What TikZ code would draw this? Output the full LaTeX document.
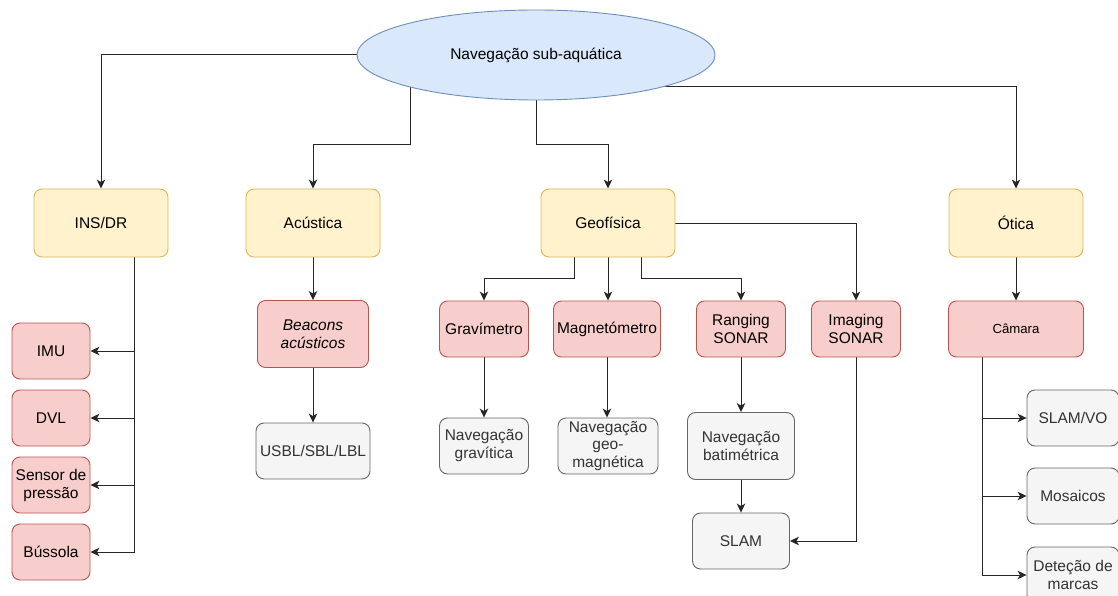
\documentclass[tikz,border=0pt]{standalone}
\usepackage{fontspec}
\setmainfont{Liberation Sans}
\usetikzlibrary{shapes.geometric,arrows.meta,calc,backgrounds}
\definecolor{bluef}{HTML}{DAE8FC}\definecolor{blued}{HTML}{6C8EBF}
\definecolor{yelf}{HTML}{FFF2CC}\definecolor{yeld}{HTML}{D6B656}
\definecolor{redf}{HTML}{F8CECC}\definecolor{redd}{HTML}{B85450}
\definecolor{greyf}{HTML}{F5F5F5}\definecolor{greyd}{HTML}{666666}
\definecolor{greyt}{HTML}{333333}
\tikzset{
  base/.style={rounded corners=8pt, line width=0.9pt, inner sep=0pt, align=center,
    font=\fontsize{15.5}{18}\selectfont},
  yelbox/.style={base, fill=yelf, draw=yeld, minimum width=134pt, minimum height=68pt},
  redbox/.style={base, fill=redf, draw=redd, minimum height=56pt},
  greybox/.style={base, fill=greyf, draw=greyd, text=greyt, minimum height=56pt},
  conn/.style={line width=1pt, draw=black!85, -{Stealth[length=9pt,width=8.5pt,inset=2.5pt]}},
  plain/.style={line width=1pt, draw=black!85},
}
\begin{document}
\begin{tikzpicture}[x=1pt,y=-1pt]
\useasboundingbox (0,0) rectangle (1118,596);
% main ellipse
\node[ellipse, fill=bluef, draw=blued, line width=0.9pt, minimum width=358pt, minimum height=90pt,
  inner sep=0pt, font=\fontsize{15.5}{18}\selectfont] (ell) at (536,55) {Navegação sub-aquática};
% level 1
\node[yelbox] (ins) at (101,223) {INS/DR};
\node[yelbox] (acu) at (313,223) {Acústica};
\node[yelbox] (geo) at (608,223) {Geofísica};
\node[yelbox] (oti) at (1016,223) {Ótica};
% INS/DR children
\node[redbox, minimum width=78pt] (imu) at (51,351) {IMU};
\node[redbox, minimum width=78pt] (dvl) at (51,418) {DVL};
\node[redbox, minimum width=78pt] (sen) at (51,485) {Sensor de\\pressão};
\node[redbox, minimum width=78pt] (bus) at (51,552) {Bússola};
% Acustica children
\node[redbox, minimum width=111pt, minimum height=67pt] (bea) at (313,334) {\textit{Beacons}\\\textit{acústicos}};
\node[greybox, minimum width=114pt] (usb) at (313,451) {USBL/SBL/LBL};
% Geofisica children
\node[redbox, minimum width=89pt] (gra) at (484,329) {Gravímetro};
\node[redbox, minimum width=107pt] (mag) at (607,329) {Magnetómetro};
\node[redbox, minimum width=89pt] (ran) at (741,329) {Ranging\\SONAR};
\node[redbox, minimum width=89pt] (ima) at (856,329) {Imaging\\SONAR};
\node[greybox, minimum width=89pt] (ngr) at (484,446) {Navegação\\gravítica};
\node[greybox, minimum width=100pt, font=\fontsize{15.5}{17.5}\selectfont] (nge) at (608,446) {Navegação\\geo-\\magnética};
\node[greybox, minimum width=107pt, minimum height=67pt] (nba) at (741,446) {Navegação\\batimétrica};
\node[greybox, minimum width=97pt] (slam) at (741,541) {SLAM};
% Otica children
\node[redbox, minimum width=135pt, font=\fontsize{13.2}{16}\selectfont] (cam) at (1016,329) {Câmara};
\node[greybox, minimum width=92pt] (svo) at (1073,418) {SLAM/VO};
\node[greybox, minimum width=92pt] (mos) at (1073,496) {Mosaicos};
\node[greybox, minimum width=92pt] (det) at (1073,575) {Deteção de\\marcas};
% connector anchor points
\coordinate (eA) at (410,87);
\coordinate (eG) at (536,100);
\coordinate (eO) at (665,87);
\coordinate (insb) at ($(ins.south)!0.5!(ins.south east)$);
\coordinate (camb) at ($(cam.south)!0.5!(cam.south west)$);
\coordinate (geoL) at ($(geo.south)!0.5!(geo.south west)$);
\coordinate (geoR) at ($(geo.south)!0.5!(geo.south east)$);
\begin{scope}[on background layer]
% level 1 connectors
\draw[conn] (ell.west) -| (ins.north);
\draw[conn] (eA) -- ++(0,58) -| (acu.north);
\draw[conn] (eG) -- ++(0,45) -| (geo.north);
\draw[conn] (eO) -| (oti.north);
% INS/DR
\draw[plain] (insb) -- (insb |- bus);
\draw[conn] (insb |- imu) -- (imu.east);
\draw[conn] (insb |- dvl) -- (dvl.east);
\draw[conn] (insb |- sen) -- (sen.east);
\draw[conn] (insb |- bus) -- (bus.east);
% Acustica
\draw[conn] (acu.south) -- (bea.north);
\draw[conn] (bea.south) -- (usb.north);
% Geofisica
\draw[conn] (geoL) -- ++(0,21) -| (gra.north);
\draw[conn] (geo.south) -- (geo.south |- mag.north);
\draw[conn] (geoR) -- ++(0,21) -| (ran.north);
\draw[conn] (geo.east) -| (ima.north);
\draw[conn] (gra.south) -- (ngr.north);
\draw[conn] (mag.south) -- (mag.south |- nge.north);
\draw[conn] (ran.south) -- (nba.north);
\draw[conn] (nba.south) -- (slam.north);
\draw[conn] (ima.south) |- (slam.east);
% Otica
\draw[conn] (oti.south) -- (cam.north);
\draw[plain] (camb) -- (camb |- det);
\draw[conn] (camb |- svo) -- (svo.west);
\draw[conn] (camb |- mos) -- (mos.west);
\draw[conn] (camb |- det) -- (det.west);
\end{scope}
\end{tikzpicture}
\end{document}
